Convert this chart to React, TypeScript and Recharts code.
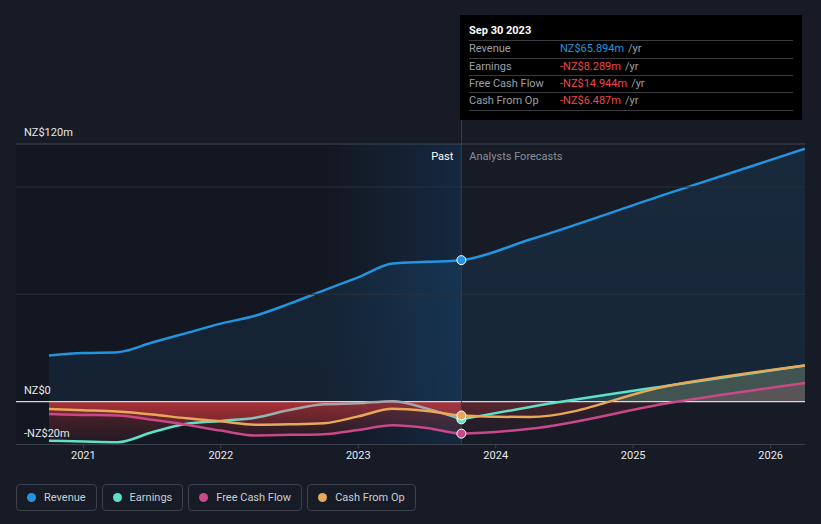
import React from 'react';
import {
  ComposedChart, Area, Line, XAxis, YAxis, ReferenceLine, ReferenceArea, ReferenceDot,
} from 'recharts';

// ---- data (NZ$ millions, trailing twelve months) ----
const pastDates = [2020.75, 2021.0, 2021.25, 2021.5, 2021.75, 2022.0, 2022.25, 2022.5, 2022.75, 2023.0, 2023.25, 2023.5, 2023.75];
const revenuePast = [21.5, 22.6, 23.0, 27.5, 31.9, 36.3, 40.0, 45.6, 51.8, 57.9, 64.3, 65.1, 65.894];
const earningsPast = [-18.2, -18.6, -18.9, -14.3, -10.3, -9.0, -7.5, -3.9, -1.3, -0.8, 0.2, -3.3, -8.289];
const fcfPast = [-5.8, -6.2, -6.5, -8.5, -10.8, -13.5, -15.8, -15.5, -15.2, -13.2, -11.0, -12.3, -14.944];
const cfoPast = [-3.5, -4.0, -4.6, -6.0, -7.8, -9.2, -10.8, -10.6, -10.1, -6.9, -3.4, -4.4, -6.487];

const forecastDates = [2023.75, 2024.25, 2025.25, 2026.25];
const revenueForecast = [65.894, 75.5, 96.9, 117.8];
const earningsForecast = [-8.289, -2.5, 7.4, 16.8];
const fcfForecast = [-14.944, -12.7, -0.8, 8.6];
const cfoForecast = [-6.487, -7.2, 7.3, 16.8];

const yearTicks = [2021, 2022, 2023, 2024, 2025, 2026];
const gridValues = [120, 100, 50];
const yLabels = [
  { value: 120, text: 'NZ$120m' },
  { value: 0, text: 'NZ$0' },
  { value: -20, text: '-NZ$20m' },
];
const legendItems = [
  { name: 'Revenue', color: '#2394df' },
  { name: 'Earnings', color: '#5ee0c9' },
  { name: 'Free Cash Flow', color: '#c8488a' },
  { name: 'Cash From Op', color: '#e8a85a' },
];
const tooltipRows = [
  { name: 'Revenue', value: 'NZ$65.894m', color: '#2394df' },
  { name: 'Earnings', value: '-NZ$8.289m', color: '#f04848' },
  { name: 'Free Cash Flow', value: '-NZ$14.944m', color: '#f04848' },
  { name: 'Cash From Op', value: '-NZ$6.487m', color: '#f04848' },
];
const pastEnd = 2023.75;
const highlightStart = 2022.75;
const xDomain = [2020.51, 2026.25];
const yDomain = [-20, 120];

// ---- build table ----
const table = new Map<number, any>();
const rowFor = (d: number) => {
  if (!table.has(d)) table.set(d, { date: d });
  return table.get(d);
};
pastDates.forEach((d, i) => {
  const r = rowFor(d);
  r.revenue = revenuePast[i];
  r.earnPast = earningsPast[i];
  r.fcf = fcfPast[i];
  r.fcfPast = fcfPast[i];
  r.cfo = cfoPast[i];
  r.cfoPast = cfoPast[i];
});
forecastDates.forEach((d, i) => {
  const r = rowFor(d);
  r.revenue = revenueForecast[i];
  r.earnFc = earningsForecast[i];
  r.fcf = fcfForecast[i];
  r.fcfFc = fcfForecast[i];
  r.cfo = cfoForecast[i];
  r.cfoFc = cfoForecast[i];
});
const data = Array.from(table.values()).sort((a, b) => a.date - b.date);

// ---- layout ----
const W = 821;
const H = 524;
const TOP = 144;
const PLOT_BOTTOM = 444.5;
const PH = PLOT_BOTTOM - TOP;
const yPx = (v: number) => TOP + ((yDomain[1] - v) / (yDomain[1] - yDomain[0])) * PH;
const zeroY = yPx(0);
const zeroOff = (zeroY - TOP) / PH;

const YLabel = (props: any) => {
  const { viewBox, text } = props;
  if (!viewBox) return null;
  return (
    <text x={viewBox.x + 8} y={viewBox.y - 8} fill="#e6e8eb" fontSize={11} fontFamily="Roboto">
      {text}
    </text>
  );
};

const PastLabel = (props: any) => {
  const { viewBox } = props;
  if (!viewBox) return null;
  return (
    <g fontFamily="Roboto" fontSize={11}>
      <text x={viewBox.x - 8} y={viewBox.y + 16} textAnchor="end" fill="#ffffff">Past</text>
      <text x={viewBox.x + 8} y={viewBox.y + 16} textAnchor="start" fill="#8b9098">Analysts Forecasts</text>
    </g>
  );
};

const fcGrad = (id: string, color: string) => (
  <linearGradient id={id} gradientUnits="userSpaceOnUse" x1="0" y1={TOP} x2="0" y2={PLOT_BOTTOM}>
    <stop offset="0" stopColor={color} stopOpacity={0.16} />
    <stop offset={zeroOff} stopColor={color} stopOpacity={0.16} />
    <stop offset={zeroOff} stopColor="#e23a3e" stopOpacity={0.12} />
    <stop offset="1" stopColor="#e23a3e" stopOpacity={0.04} />
  </linearGradient>
);

export default function App() {
  return (
    <div style={{ position: 'absolute', left: 0, top: 0, width: W, height: H, background: '#161b26', fontFamily: 'Roboto, sans-serif', overflow: 'hidden' }}>
      <div style={{ position: 'absolute', left: 0, top: 0 }}>
        <ComposedChart width={W} height={H} data={data} margin={{ top: TOP, right: 16, bottom: H - PLOT_BOTTOM - 30, left: 16 }}>
          <defs>
            <linearGradient id="pastHi" x1="0" y1="0" x2="1" y2="0">
              <stop offset="0" stopColor="#1e6ebe" stopOpacity={0} />
              <stop offset="1" stopColor="#1e6ebe" stopOpacity={0.2} />
            </linearGradient>
            <linearGradient id="revFill" gradientUnits="userSpaceOnUse" x1="0" y1={TOP} x2="0" y2={zeroY}>
              <stop offset="0" stopColor="#2394df" stopOpacity={0.12} />
              <stop offset="1" stopColor="#2394df" stopOpacity={0.09} />
            </linearGradient>
            <linearGradient id="redPast" gradientUnits="userSpaceOnUse" x1="0" y1={zeroY} x2="0" y2={PLOT_BOTTOM}>
              <stop offset="0" stopColor="#e23a3e" stopOpacity={0.34} />
              <stop offset="1" stopColor="#e23a3e" stopOpacity={0.06} />
            </linearGradient>
            <linearGradient id="earnStroke" gradientUnits="userSpaceOnUse" x1="0" y1={yPx(-5)} x2="0" y2={yPx(-10)}>
              <stop offset="0" stopColor="#a6a6a8" />
              <stop offset="1" stopColor="#5ee0c9" />
            </linearGradient>
            {fcGrad('earnFcFill', '#5ee0c9')}
            {fcGrad('fcfFcFill', '#c8488a')}
            {fcGrad('cfoFcFill', '#e8a85a')}
          </defs>
          <XAxis
            type="number"
            dataKey="date"
            domain={xDomain}
            allowDataOverflow
            ticks={yearTicks}
            tickFormatter={(v: number) => String(v)}
            tick={{ fill: '#e6e8eb', fontSize: 11, fontFamily: 'Roboto' }}
            tickLine={{ stroke: '#3d424c' }}
            tickSize={4}
            tickMargin={3}
            axisLine={{ stroke: '#3d424c' }}
            height={30}
          />
          <YAxis hide type="number" domain={yDomain} allowDataOverflow />
          <ReferenceArea x1={xDomain[0]} x2={pastEnd} y1={yDomain[0]} y2={yDomain[1]} fill="#000000" fillOpacity={0.13} stroke="none" />
          <ReferenceArea x1={highlightStart} x2={pastEnd} y1={yDomain[0]} y2={yDomain[1]} fill="url(#pastHi)" fillOpacity={1} stroke="none" />
          {gridValues.map((v) => (
            <ReferenceLine key={v} y={v} stroke={v === 120 ? '#434853' : '#2b303a'} strokeWidth={1}
              label={v === 120 ? <YLabel text={yLabels[0].text} /> : undefined} />
          ))}
          <ReferenceLine y={-20} stroke="#3d424c" label={<YLabel text={yLabels[2].text} />} />
          <Area type="monotone" dataKey="revenue" stroke="#2394df" strokeWidth={2.5} fill="url(#revFill)" fillOpacity={1} baseValue={0} isAnimationActive={false} dot={false} activeDot={false} />
          <Area type="monotone" dataKey="earnPast" stroke="none" fill="url(#redPast)" fillOpacity={1} baseValue={0} isAnimationActive={false} dot={false} activeDot={false} />
          <Area type="monotone" dataKey="fcfPast" stroke="none" fill="url(#redPast)" fillOpacity={1} baseValue={0} isAnimationActive={false} dot={false} activeDot={false} />
          <Area type="monotone" dataKey="cfoPast" stroke="none" fill="url(#redPast)" fillOpacity={1} baseValue={0} isAnimationActive={false} dot={false} activeDot={false} />
          <Area type="monotone" dataKey="earnFc" stroke="none" fill="url(#earnFcFill)" fillOpacity={1} baseValue={0} isAnimationActive={false} dot={false} activeDot={false} />
          <Area type="monotone" dataKey="fcfFc" stroke="none" fill="url(#fcfFcFill)" fillOpacity={1} baseValue={0} isAnimationActive={false} dot={false} activeDot={false} />
          <Area type="monotone" dataKey="cfoFc" stroke="none" fill="url(#cfoFcFill)" fillOpacity={1} baseValue={0} isAnimationActive={false} dot={false} activeDot={false} />
          <ReferenceLine y={0} stroke="#d8d8da" strokeWidth={1.2} label={<YLabel text={yLabels[1].text} />} />
          <Line type="monotone" dataKey="earnPast" stroke="url(#earnStroke)" strokeWidth={2.5} dot={false} activeDot={false} isAnimationActive={false} />
          <Line type="monotone" dataKey="earnFc" stroke="#5ee0c9" strokeWidth={2.5} dot={false} activeDot={false} isAnimationActive={false} />
          <Line type="monotone" dataKey="fcf" stroke="#c8488a" strokeWidth={2.5} dot={false} activeDot={false} isAnimationActive={false} />
          <Line type="monotone" dataKey="cfo" stroke="#e8a85a" strokeWidth={2.5} dot={false} activeDot={false} isAnimationActive={false} />
          <ReferenceLine x={pastEnd} stroke="#2a4058" strokeWidth={1} label={<PastLabel />} />
          <ReferenceDot x={pastEnd} y={revenuePast[revenuePast.length - 1]} r={4.5} fill="#2394df" stroke="#ffffff" strokeWidth={1} />
          <ReferenceDot x={pastEnd} y={earningsPast[earningsPast.length - 1]} r={4.5} fill="#5ee0c9" stroke="#ffffff" strokeWidth={1} />
          <ReferenceDot x={pastEnd} y={cfoPast[cfoPast.length - 1]} r={4.5} fill="#e8a85a" stroke="#ffffff" strokeWidth={1} />
          <ReferenceDot x={pastEnd} y={fcfPast[fcfPast.length - 1]} r={4.5} fill="#c8488a" stroke="#ffffff" strokeWidth={1} />
        </ComposedChart>
      </div>

      {/* connector from tooltip to plot */}
      <div style={{ position: 'absolute', left: 461, top: 120, width: 1, height: 24, background: '#2a4058' }} />

      {/* tooltip panel */}
      <div style={{ position: 'absolute', left: 460, top: 15, width: 342, height: 105, background: '#000000', boxSizing: 'border-box', padding: '0 9px', fontSize: 11 }}>
        <div style={{ height: 26.3, boxSizing: 'border-box', paddingTop: 9, lineHeight: '13px', fontWeight: 700, color: '#ffffff', borderBottom: '1px solid #3a3b3e' }}>
          Sep 30 2023
        </div>
        {tooltipRows.map((r) => (
          <div key={r.name} style={{ height: 17.4, boxSizing: 'border-box', lineHeight: '16.4px', borderBottom: '1px solid #3a3b3e', display: 'flex', whiteSpace: 'nowrap' }}>
            <span style={{ width: 91, color: '#9aa0a8' }}>{r.name}</span>
            <span style={{ color: r.color }}>{r.value}</span>
            <span style={{ color: '#9aa0a8', marginLeft: 4 }}>/yr</span>
          </div>
        ))}
      </div>

      {/* legend */}
      <div style={{ position: 'absolute', left: 16, top: 484, display: 'flex', gap: 5 }}>
        {legendItems.map((it) => (
          <div key={it.name} style={{ height: 27, boxSizing: 'border-box', border: '1px solid #3b404a', borderRadius: 4, padding: '0 10px 0 10px', display: 'flex', alignItems: 'center', color: '#c9cdd3', fontSize: 11, whiteSpace: 'nowrap' }}>
            <span style={{ width: 9, height: 9, borderRadius: '50%', background: it.color, marginRight: 8, display: 'inline-block' }} />
            {it.name}
          </div>
        ))}
      </div>
    </div>
  );
}
